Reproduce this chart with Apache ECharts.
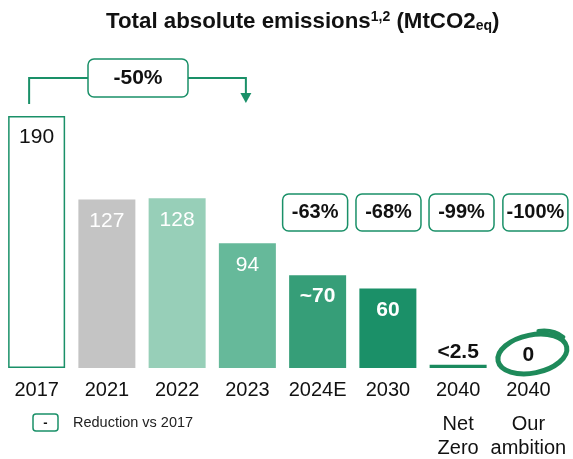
<!DOCTYPE html>
<html><head><meta charset="utf-8">
<script src="https://cdn.jsdelivr.net/npm/echarts@6/dist/echarts.min.js"></script>
<style>html,body{margin:0;padding:0;background:#fff}#c{width:573px;height:459px}</style>
</head><body><div id="c"></div>
<script>
// ---- data ----
const categories = ['2017','2021','2022','2023','2024E','2030','2040','2040'];
const subLabels = ['','','','','','','Net\nZero','Our\nambition'];
const values = [190,127,128,94,70,60,2.5,0];
const valueLabels = ['190','127','128','94','~70','60','<2.5','0'];
const reductions = [null,null,null,null,'-63%','-68%','-99%','-100%'];
const baseReduction = '-50%';
const legendText = 'Reduction vs 2017';

// ---- styles ----
const FONT = '"Liberation Sans", Arial, Helvetica, sans-serif';
const G = '#1a9068';
const barColors = ['#ffffff','#c4c4c4','#97cfb8','#66b99a','#369e78','#1b9068','#1a8a5e','#1a8a5e'];
const labelStyles = [
  {color:'#111', fontWeight:'normal', position:'insideTop'},
  {color:'#fff', fontWeight:'normal', position:'insideTop'},
  {color:'#fff', fontWeight:'normal', position:'insideTop'},
  {color:'#fff', fontWeight:'normal', position:'insideTop'},
  {color:'#fff', fontWeight:'bold', position:'insideTop'},
  {color:'#fff', fontWeight:'bold', position:'insideTop'},
  {color:'#111', fontWeight:'bold', position:'top'},
  {color:'#111', fontWeight:'bold', position:'top'}
];
const boxOffsets = [0,0,0,0,-2.5,0.6,3.4,7];
const BOX_LEVEL = 117.3;

const chart = echarts.init(document.getElementById('c'), null, {renderer:'canvas'});

const barData = values.map((v,i)=>({
  value: v,
  itemStyle: i===0 ? {color:'#fff', borderColor:G, borderWidth:1.5} : {color:barColors[i]},
  label: {
    show: true,
    position: labelStyles[i].position,
    distance: labelStyles[i].position==='top' ? 2 : 11,
    color: labelStyles[i].color,
    fontWeight: labelStyles[i].fontWeight,
    fontSize: 21,
    fontFamily: FONT,
    formatter: valueLabels[i]
  }
}));

const boxData = [];
reductions.forEach((r,i)=>{ if (r !== null) boxData.push([i, BOX_LEVEL, r]); });

chart.setOption({
  animation: false,
  backgroundColor: '#fff',
  title: {
    text: '{t|Total absolute emissions}{sup|1,2}{t| (MtCO2}{sub|eq}{t|)}',
    left: 101, top: 5,
    textStyle: {
      rich: {
        t: {fontSize: 22.3, fontWeight:'bold', fontFamily: FONT, color:'#111'},
        sup: {fontSize: 14, fontWeight:'bold', fontFamily: FONT, color:'#111', padding:[0,0,10,0]},
        sub: {fontSize: 14, fontWeight:'bold', fontFamily: FONT, color:'#111', padding:[9,0,0,0]}
      }
    }
  },
  grid: {left: 1.5, right: 9.5, top: 102.8, bottom: 91, containLabel: false},
  xAxis: {
    type: 'category',
    data: categories,
    axisLine: {show:false}, axisTick: {show:false},
    axisLabel: {
      interval: 0, margin: 1,
      formatter: (v, i) => {
        const s = subLabels[i];
        if (!s) return '{y|' + v + '}';
        return '{y|' + v + '}\n' + s.split('\n').map(x=>'{s|'+x+'}').join('\n');
      },
      rich: {
        y: {fontSize: 20, fontFamily: FONT, color:'#111', lineHeight: 43},
        s: {fontSize: 20, fontFamily: FONT, color:'#111', lineHeight: 24}
      }
    }
  },
  yAxis: {type:'value', min:0, max:200, show:false},
  series: [
    {type:'bar', data: barData, barWidth: 57, silent: true},
    {type:'custom', data: boxData, silent: true, z: 5,
     encode: {x: 0, y: 1},
     renderItem: (params, api) => {
       const idx = api.value(0);
       const p = api.coord([idx, api.value(1)]);
       const cx = p[0] + boxOffsets[idx];
       return {type:'group', children:[
         {type:'rect', shape:{x:cx-32.5, y:p[1]-18.5, width:65, height:37, r:6}, style:{fill:'#fff', stroke:G, lineWidth:1.5}},
         {type:'text', x:cx, y:p[1]+0.5, style:{text: boxData[params.dataIndex][2], fill:'#111', font:'bold 20px ' + FONT, align:'center', verticalAlign:'middle'}}
       ]};
     }}
  ]
});

// ---- annotations positioned from the axes ----
const px = i => chart.convertToPixel({gridIndex:0}, [i, 0])[0];
const yLine = 78;
const xL = px(0) - 7.5;
const xR = px(3) - 1.5;
const boxCx = (px(1) + px(2)) / 2 - 4;
const boxW = 100, boxH = 38;
const ell = chart.convertToPixel({gridIndex:0}, [7, 0]);
const ex = ell[0] + 4, ey = ell[1] - 14;

chart.setOption({
  graphic: [
    {type:'polyline', shape:{points:[[xL,104],[xL,yLine],[boxCx-boxW/2,yLine]]}, style:{stroke:G, lineWidth:2, fill:null}},
    {type:'polyline', shape:{points:[[boxCx+boxW/2,yLine],[xR,yLine],[xR,95]]}, style:{stroke:G, lineWidth:2, fill:null}},
    {type:'polygon', shape:{points:[[xR-5.5,93],[xR+5.5,93],[xR,103]]}, style:{fill:G}},
    {type:'rect', shape:{x:boxCx-boxW/2, y:yLine-boxH/2, width:boxW, height:boxH, r:6}, style:{fill:'#fff', stroke:G, lineWidth:1.5}},
    {type:'text', x:boxCx, y:yLine, style:{text:baseReduction, fontSize:21, fontWeight:'bold', fontFamily:FONT, fill:'#111', align:'center', verticalAlign:'middle'}},
    // ellipse round the ambition value
    {type:'ellipse', x: ex, y: ey, rotation: 0.2, shape:{cx:0, cy:0, rx:35, ry:19}, style:{fill:null, stroke:'#1e8a5a', lineWidth:5}, z: 10},
    {type:'bezierCurve', shape:{x1:ex+6, y1:ey-23, cpx1:ex+21, cpy1:ey-25, x2:ex+31, y2:ey-17}, style:{stroke:'#1e8a5a', lineWidth:4, fill:null, lineCap:'round'}, z: 10},
    // legend
    {type:'rect', shape:{x:33, y:414, width:25, height:17, r:3}, style:{fill:'#fff', stroke:G, lineWidth:1.5}},
    {type:'text', x:45.5, y:423, style:{text:'-', fontSize:13, fontWeight:'bold', fontFamily:FONT, fill:'#111', align:'center', verticalAlign:'middle'}},
    {type:'text', x:73, y:423, style:{text:legendText, fontSize:14.5, fontFamily:FONT, fill:'#222', align:'left', verticalAlign:'middle'}}
  ]
});
</script>
</body></html>
